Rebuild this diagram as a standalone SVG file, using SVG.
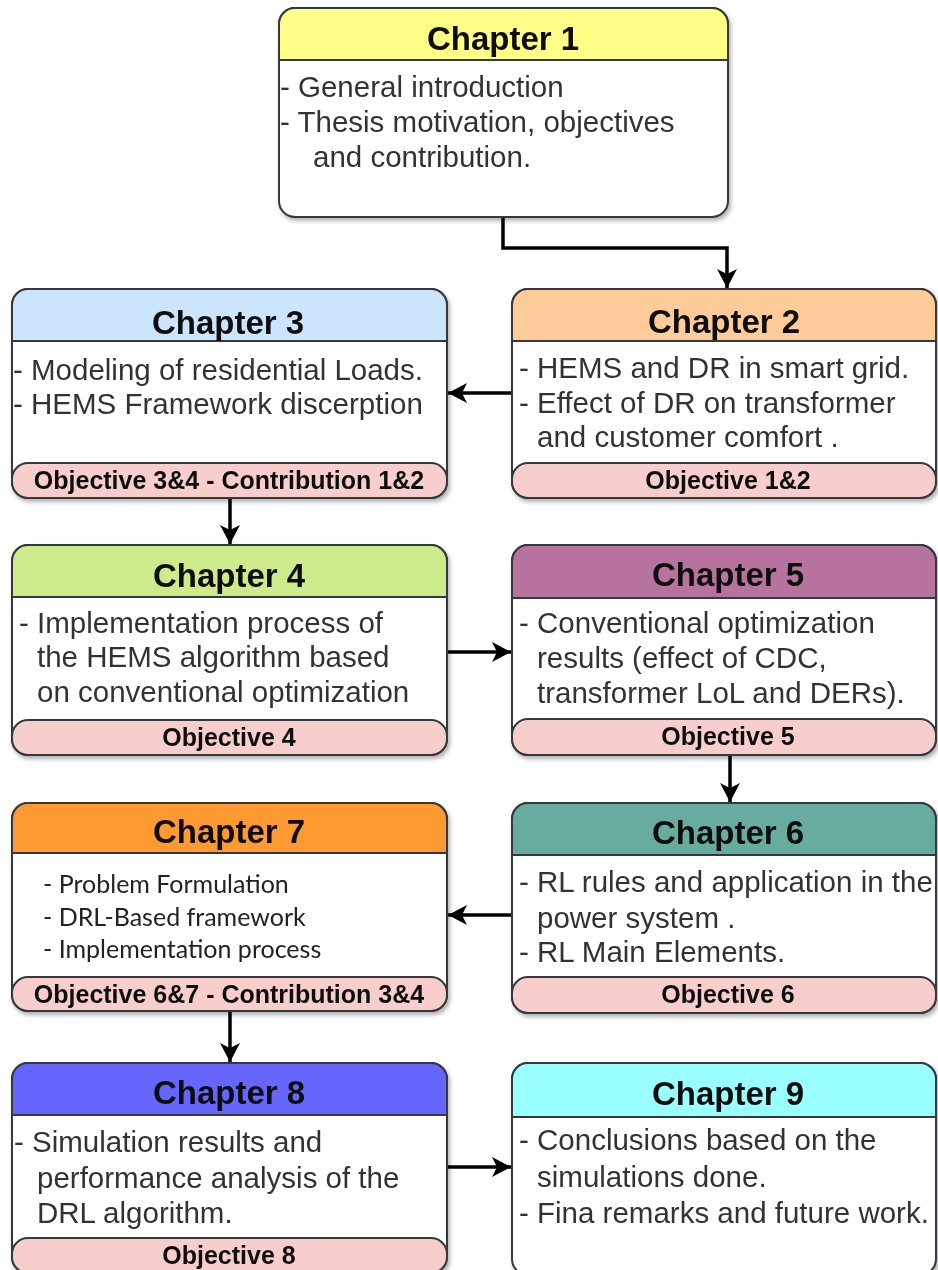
<svg xmlns="http://www.w3.org/2000/svg" width="938" height="1270" viewBox="0 0 938 1270">
<style>
.box{fill:#ffffff;stroke:#36393d;stroke-width:2}
.hdr{stroke:#36393d;stroke-width:2}
.band{fill:#f8cecc;stroke:#36393d;stroke-width:2}
.title{font-family:"Liberation Sans",Arial,sans-serif;font-weight:bold;font-size:33px;fill:#111;text-anchor:middle}
.body{font-family:"Liberation Sans",Arial,sans-serif;font-size:29.5px;fill:#333}
.body2{font-family:Lato,"Liberation Sans",sans-serif;font-size:25px;fill:#222}
.obj{font-family:"Liberation Sans",Arial,sans-serif;font-weight:bold;font-size:25px;fill:#111;text-anchor:middle}
.conn{fill:none;stroke:#000;stroke-width:3.5}
</style>
<defs>
<filter id="sh" x="-5%" y="-5%" width="115%" height="115%">
<feDropShadow dx="2" dy="3" stdDeviation="2" flood-color="#000" flood-opacity="0.3"/>
</filter>
<marker id="arr" markerUnits="userSpaceOnUse" markerWidth="22" markerHeight="22" refX="19" refY="11" orient="auto">
<path d="M0,1 L19,11 L0,21 L5,11 Z" fill="#000"/>
</marker>
</defs>
<rect width="938" height="1270" fill="#ffffff"/>

<g id="connectors">
<path class="conn" d="M503,218 V248 H727 V288" marker-end="url(#arr)"/>
<path class="conn" d="M512,393 H448" marker-end="url(#arr)"/>
<path class="conn" d="M230,498 V544" marker-end="url(#arr)"/>
<path class="conn" d="M447,652 H511" marker-end="url(#arr)"/>
<path class="conn" d="M730,755 V802" marker-end="url(#arr)"/>
<path class="conn" d="M512,915 H448" marker-end="url(#arr)"/>
<path class="conn" d="M230,1011 V1062" marker-end="url(#arr)"/>
<path class="conn" d="M447,1167 H511" marker-end="url(#arr)"/>
</g>

<g id="chapter1" filter="url(#sh)">
<rect class="box" x="279" y="8" width="449" height="209" rx="16"/>
<path class="hdr" fill="#ffff88" d="M279,60 V24 A16,16 0 0 1 295,8 H712 A16,16 0 0 1 728,24 V60 Z"/>
<text class="title" x="503" y="50">Chapter 1</text>
<text class="body" x="280" y="97">- General introduction</text>
<text class="body" x="280" y="132">- Thesis motivation, objectives</text>
<text class="body" x="313" y="167">and contribution.</text>
</g>

<g id="chapter2" filter="url(#sh)">
<rect class="box" x="512" y="289" width="424" height="209" rx="16"/>
<path class="hdr" fill="#ffcc99" d="M512,341 V305 A16,16 0 0 1 528,289 H920 A16,16 0 0 1 936,305 V341 Z"/>
<rect class="band" x="512" y="463" width="424" height="35" rx="16"/>
<text class="title" x="724" y="333">Chapter 2</text>
<text class="body" x="519" y="378">- HEMS and DR in smart grid.</text>
<text class="body" x="519" y="413">- Effect of DR on transformer</text>
<text class="body" x="537" y="447">and customer comfort .</text>
<text class="obj" x="728" y="489">Objective 1&amp;2</text>
</g>

<g id="chapter3" filter="url(#sh)">
<rect class="box" x="12" y="289" width="435" height="209" rx="16"/>
<path class="hdr" fill="#cce5ff" d="M12,341 V305 A16,16 0 0 1 28,289 H431 A16,16 0 0 1 447,305 V341 Z"/>
<rect class="band" x="12" y="463" width="435" height="35" rx="16"/>
<text class="title" x="228" y="334">Chapter 3</text>
<text class="body" x="13" y="380">- Modeling of residential Loads.</text>
<text class="body" x="13" y="414">- HEMS Framework discerption</text>
<text class="obj" x="229" y="489">Objective 3&amp;4 - Contribution 1&amp;2</text>
</g>

<g id="chapter4" filter="url(#sh)">
<rect class="box" x="12" y="545" width="435" height="210" rx="16"/>
<path class="hdr" fill="#cdeb8b" d="M12,597 V561 A16,16 0 0 1 28,545 H431 A16,16 0 0 1 447,561 V597 Z"/>
<rect class="band" x="12" y="720" width="435" height="35" rx="16"/>
<text class="title" x="229" y="587">Chapter 4</text>
<text class="body" x="19" y="633">- Implementation process of</text>
<text class="body" x="37" y="667">the HEMS algorithm based</text>
<text class="body" x="37" y="702">on conventional optimization</text>
<text class="obj" x="229" y="746">Objective 4</text>
</g>

<g id="chapter5" filter="url(#sh)">
<rect class="box" x="512" y="545" width="424" height="210" rx="16"/>
<path class="hdr" fill="#b5739d" d="M512,598 V561 A16,16 0 0 1 528,545 H920 A16,16 0 0 1 936,561 V598 Z"/>
<rect class="band" x="512" y="719" width="424" height="36" rx="16"/>
<text class="title" x="728" y="586">Chapter 5</text>
<text class="body" x="519" y="633">- Conventional optimization</text>
<text class="body" x="537" y="668">results (effect of CDC,</text>
<text class="body" x="537" y="703">transformer LoL and DERs).</text>
<text class="obj" x="728" y="745">Objective 5</text>
</g>

<g id="chapter6" filter="url(#sh)">
<rect class="box" x="512" y="803" width="424" height="210" rx="16"/>
<path class="hdr" fill="#67ab9f" d="M512,855 V819 A16,16 0 0 1 528,803 H920 A16,16 0 0 1 936,819 V855 Z"/>
<rect class="band" x="512" y="977" width="424" height="36" rx="16"/>
<text class="title" x="728" y="844">Chapter 6</text>
<text class="body" x="519" y="892">- RL rules and application in the</text>
<text class="body" x="537" y="928">power system .</text>
<text class="body" x="519" y="962">- RL Main Elements.</text>
<text class="obj" x="728" y="1003">Objective 6</text>
</g>

<g id="chapter7" filter="url(#sh)">
<rect class="box" x="12" y="803" width="435" height="208" rx="16"/>
<path class="hdr" fill="#ff9933" d="M12,853 V819 A16,16 0 0 1 28,803 H431 A16,16 0 0 1 447,819 V853 Z"/>
<rect class="band" x="12" y="977" width="435" height="34" rx="16"/>
<text class="title" x="229" y="843">Chapter 7</text>
<text class="body2" x="43" y="893">- Problem Formulation</text>
<text class="body2" x="43" y="926">- DRL-Based framework</text>
<text class="body2" x="43" y="958">- Implementation process</text>
<text class="obj" x="229" y="1003">Objective 6&amp;7 - Contribution 3&amp;4</text>
</g>

<g id="chapter8" filter="url(#sh)">
<rect class="box" x="12" y="1063" width="435" height="210" rx="16"/>
<path class="hdr" fill="#6666ff" d="M12,1115 V1079 A16,16 0 0 1 28,1063 H431 A16,16 0 0 1 447,1079 V1115 Z"/>
<rect class="band" x="12" y="1238" width="435" height="35" rx="16"/>
<text class="title" x="229" y="1104">Chapter 8</text>
<text class="body" x="14" y="1152">- Simulation results and</text>
<text class="body" x="37" y="1188">performance analysis of the</text>
<text class="body" x="37" y="1223">DRL algorithm.</text>
<text class="obj" x="229" y="1264">Objective 8</text>
</g>

<g id="chapter9" filter="url(#sh)">
<rect class="box" x="512" y="1063" width="424" height="212" rx="16"/>
<path class="hdr" fill="#99ffff" d="M512,1117 V1079 A16,16 0 0 1 528,1063 H920 A16,16 0 0 1 936,1079 V1117 Z"/>
<text class="title" x="728" y="1105">Chapter 9</text>
<text class="body" x="519" y="1150">- Conclusions based on the</text>
<text class="body" x="537" y="1187">simulations done.</text>
<text class="body" x="519" y="1223">- Fina remarks and future work.</text>
</g>
</svg>
